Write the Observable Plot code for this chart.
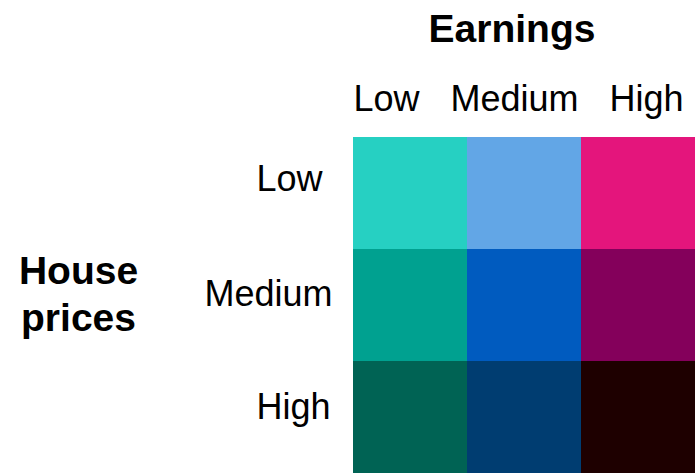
<!DOCTYPE html>
<html>
<head>
<meta charset="utf-8">
<script src="https://cdn.jsdelivr.net/npm/d3@7"></script>
<script src="https://cdn.jsdelivr.net/npm/@observablehq/plot@0.6"></script>
<style>
  html, body { margin: 0; padding: 0; background: #fff; }
  svg { display: block; }
</style>
</head>
<body>
<div id="chart"></div>
<script>
const earnings = ["Low", "Medium", "High"];
const housePrices = ["Low", "Medium", "High"];
// rows: house prices (Low → High), columns: earnings (Low → High)
const colorsLowHouse = ["#26D0C2", "#62A6E6", "#E4157C"];
const colorsMediumHouse = ["#00A190", "#005BBF", "#84005B"];
const colorsHighHouse = ["#006354", "#003D71", "#1E0000"];
const xTitle = "Earnings";
const yTitle = "House prices";

const colorRows = [colorsLowHouse, colorsMediumHouse, colorsHighHouse];
const cells = housePrices.flatMap((h, i) =>
  earnings.map((e, j) => ({house: h, earnings: e, color: colorRows[i][j]}))
);

const font = "'Liberation Sans', Arial, Helvetica, sans-serif";
const xLabelDx = [-24, -10, 8];
const yLabelDx = [-9, 1, -1];
const yLabelDy = [-3, 0, 1];

const chart = Plot.plot({
  width: 695,
  height: 473,
  marginLeft: 352,
  marginTop: 137,
  marginRight: 0,
  marginBottom: 0,
  style: {fontFamily: font, background: "#fff", color: "#000"},
  x: {domain: earnings, padding: 0, axis: null},
  y: {domain: housePrices, padding: 0, axis: null},
  marks: [
    Plot.cell(cells, {x: "earnings", y: "house", fill: "color"}),
    ...earnings.map((e, i) => Plot.axisX({
      ticks: [e], anchor: "top", tickSize: 0, tickPadding: 27,
      fontSize: 36, lineAnchor: "bottom", dx: xLabelDx[i], label: null
    })),
    ...housePrices.map((h, i) => Plot.axisY({
      ticks: [h], anchor: "left", tickSize: 0, tickPadding: 21,
      fontSize: 36, lineAnchor: "bottom", textAnchor: "end", dy: yLabelDy[i], dx: yLabelDx[i], label: null
    })),
    Plot.text([xTitle], {
      text: d => d, frameAnchor: "top", dx: -12, dy: -96,
      lineAnchor: "bottom", fontSize: 39, fontWeight: "bold", fill: "#000"
    }),
    Plot.text([yTitle], {
      text: d => d.replace(" ", "\n"), frameAnchor: "left", dx: -274, dy: 25,
      textAnchor: "middle", lineAnchor: "bottom", lineHeight: 1.18,
      fontSize: 39, fontWeight: "bold", fill: "#000"
    })
  ]
});
document.getElementById("chart").append(chart);
</script>
</body>
</html>
